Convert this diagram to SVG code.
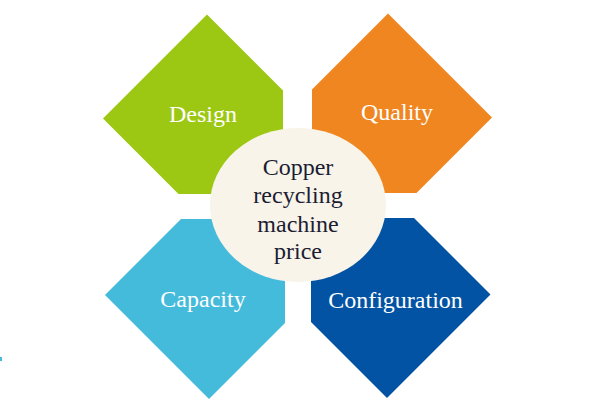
<svg xmlns="http://www.w3.org/2000/svg" width="600" height="414" viewBox="0 0 600 414">
<style>
.lbl{font-family:"Liberation Serif","Times New Roman",serif;font-size:24px;fill:#ffffff;text-anchor:middle}
.ctr{font-family:"Liberation Serif","Times New Roman",serif;font-size:24px;fill:#1c1c33;text-anchor:middle}
</style>
<rect width="600" height="414" fill="#ffffff"/>
<g id="design">
<polygon points="207,14.5 283,90.5 283,146.5 235.5,194 178.5,194 103,118.5" fill="#9cc814"/>
<text class="lbl" x="203" y="122">Design</text>
</g>
<g id="quality">
<polygon points="388,13.5 492,117.5 416.5,193 359.5,193 312,145.5 312,89.5" fill="#f0861f"/>
<text class="lbl" x="397" y="120">Quality</text>
</g>
<g id="capacity">
<polygon points="181,219 237,219 285,267 285,323 209,399 105,295" fill="#45bbdc"/>
<text class="lbl" x="203" y="307">Capacity</text>
</g>
<g id="configuration">
<polygon points="360,218 414,218 490.5,294.5 387,398 311,322 311,267" fill="#0253a3"/>
<text class="lbl" x="395.5" y="308">Configuration</text>
</g>
<g id="connectors"></g>
<g id="center">
<ellipse cx="298" cy="205" rx="88" ry="77" fill="#f8f4ea"/>
<text class="ctr" x="298" y="175">Copper</text>
<text class="ctr" x="298" y="203">recycling</text>
<text class="ctr" x="298" y="231.5">machine</text>
<text class="ctr" x="298" y="259">price</text>
</g>
<rect x="0" y="357" width="2" height="4" fill="#45bbdc"/>
</svg>
